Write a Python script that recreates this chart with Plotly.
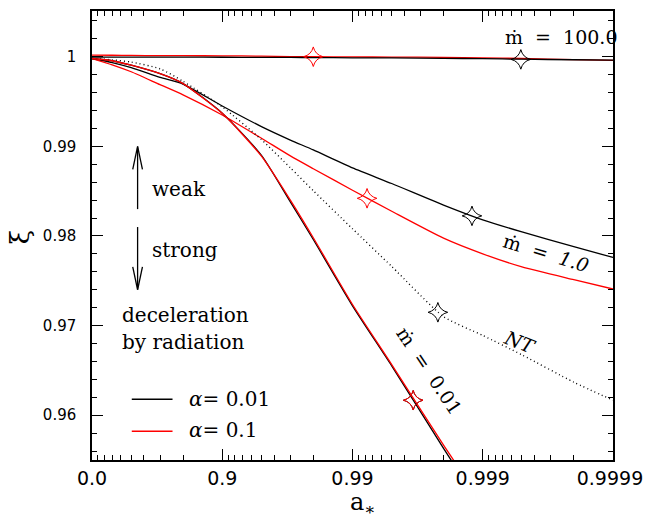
import numpy as np
import plotly.graph_objects as go

# ---------------- data ----------------
spin = [0, 0.3, 0.5, 0.7, 0.8, 0.9, 0.95, 0.97, 0.98, 0.99, 0.995, 0.998, 0.999, 0.9995, 0.9998, 0.9999]

xi_m100_a001 = [0.99995, 0.99995, 0.99995, 0.99995, 0.99995, 0.99994, 0.99993, 0.99992, 0.99990,
                0.99988, 0.99986, 0.99982, 0.99978, 0.99972, 0.99966, 0.99962]
xi_m100_a01 = [1.00018, 1.00016, 1.00014, 1.00012, 1.00011, 1.00010, 1.00006, 1.00002, 1.00000,
               0.99998, 0.99996, 0.99993, 0.99988, 0.99980, 0.99968, 0.99958]
xi_m1_a001 = [0.9998, 0.99935, 0.99878, 0.9977, 0.99695, 0.9945, 0.9922, 0.9907, 0.9896,
              0.9876, 0.98585, 0.98345, 0.9818, 0.98045, 0.9788, 0.9776]
xi_m1_a01 = [0.9998, 0.9991, 0.99832, 0.99688, 0.99575, 0.9935, 0.9909, 0.98893, 0.9875,
             0.9851, 0.98275, 0.97975, 0.9780, 0.97655, 0.97512, 0.97408]
xi_NT = [0.9998, 0.99965, 0.9994, 0.99865, 0.99725, 0.9944, 0.99075, 0.9876, 0.98505,
         0.9808, 0.9766, 0.9710, 0.9689, 0.96673, 0.96368, 0.96167]
xi_m001_a001 = [0.9998, 0.99955, 0.99905, 0.9981, 0.9970, 0.9937, 0.9890, 0.9838, 0.9796,
                0.9722, 0.9655, 0.9563, 0.9495]
xi_m001_a01 = [0.9998, 0.99955, 0.99905, 0.9981, 0.9970, 0.99368, 0.9889, 0.9840, 0.9798,
               0.97235, 0.96565, 0.95665, 0.9502]

star_spin_red = [0.98, 0.99227, 0.99658]
star_xi_red = [1.0000, 0.9842, 0.96167]
star_spin_black = [0.99949, 0.99879, 0.99779, 0.99658]
star_xi_black = [0.9997, 0.98224, 0.97148, 0.96167]

x_tick_spin = [0.0, 0.9, 0.99, 0.999, 0.9999]
x_tick_text = ["0.0", "0.9", "0.99", "0.999", "0.9999\u00a0"]
y_tick_vals = [0.96, 0.97, 0.98, 0.99, 1.0]
y_tick_text = ["0.96", "0.97", "0.98", "0.99", "1"]

# ---------------- helpers ----------------
def om(a):
    return 1.0 - np.asarray(a, dtype=float)

L, R, T, B = 92, 629, 9, 460
def PX(p):
    return (p - L) / (R - L)
def PY(p):
    return (B - p) / (B - T)

BLACK = "#000000"
RED = "#ff0000"
SERIF = "DejaVu Serif"

fig = go.Figure()

def add_line(sp, xi, color, dash="solid", width=1.3):
    fig.add_trace(go.Scatter(x=om(sp), y=xi, mode="lines",
                             line=dict(color=color, width=width, dash=dash, shape="spline", smoothing=0.6),
                             showlegend=False, hoverinfo="skip"))

add_line(spin, xi_m100_a01, RED)
add_line(spin, xi_m100_a001, BLACK)
add_line(spin, xi_m1_a001, BLACK)
add_line(spin, xi_m1_a01, RED)
add_line(spin, xi_NT, BLACK, dash="1px,3px", width=1.4)
add_line(spin[:len(xi_m001_a001)], xi_m001_a001, BLACK)
add_line(spin[:len(xi_m001_a01)], xi_m001_a01, RED)

fig.add_trace(go.Scatter(x=om(star_spin_black), y=star_xi_black, mode="markers",
                         marker=dict(symbol="star-diamond-open", size=14, color=BLACK, line=dict(width=1)),
                         showlegend=False, hoverinfo="skip"))
fig.add_trace(go.Scatter(x=om(star_spin_red), y=star_xi_red, mode="markers",
                         marker=dict(symbol="star-diamond-open", size=14, color=RED, line=dict(width=1)),
                         showlegend=False, hoverinfo="skip"))

# minor ticks on the (1 - a) log axis
minor_vals = [k * 10.0 ** (-d) for d in range(1, 5) for k in range(2, 10)]

fig.update_layout(
    width=658, height=520,
    margin=dict(l=L, r=658 - R, t=T, b=520 - B),
    paper_bgcolor="white", plot_bgcolor="white",
    showlegend=False,
    xaxis=dict(type="log", range=[0, -4], tickmode="array",
               tickvals=list(om(x_tick_spin)), ticktext=x_tick_text,
               ticks="inside", ticklen=11, tickwidth=1.2, tickcolor=BLACK,
               showline=True, linecolor=BLACK, linewidth=1.5, mirror="allticks",
               showgrid=False, zeroline=False, ticklabeloverflow="allow",
               tickfont=dict(family="DejaVu Sans", size=19, color=BLACK),
               minor=dict(tickmode="array", tickvals=minor_vals, ticks="inside",
                          ticklen=5, tickwidth=1, tickcolor=BLACK, showgrid=False)),
    yaxis=dict(range=[0.955, 1.0051], tickmode="array",
               tickvals=y_tick_vals, ticktext=y_tick_text,
               ticks="inside", ticklen=11, tickwidth=1.2, tickcolor=BLACK,
               showline=True, linecolor=BLACK, linewidth=1.5, mirror="allticks",
               showgrid=False, zeroline=False,
               tickfont=dict(family="DejaVu Sans", size=15, color=BLACK),
               ticklabelstandoff=11,
               minor=dict(dtick=0.002, tick0=0.96, ticks="inside",
                          ticklen=5, tickwidth=1, tickcolor=BLACK, showgrid=False)),
)

def note(text, x, y, size=20, angle=0, xanchor="center", yanchor="middle", family=SERIF):
    fig.add_annotation(text=text, x=PX(x), y=PY(y), xref="paper", yref="paper",
                       showarrow=False, textangle=angle, xanchor=xanchor, yanchor=yanchor,
                       font=dict(family=family, size=size, color=BLACK))

NB = "\u00a0"
note("\u1e41" + NB * 2 + "=" + NB * 2 + "100.0", 576, 35, size=19)
note("\u1e41" + NB * 2 + "=" + NB * 2 + "<i>1.0</i>", 560, 252, size=19, angle=17)
note("<i>NT</i>", 533, 341, size=19, angle=22)
note("\u1e41" + NB * 2 + "=" + NB * 2 + "0.01", 439, 370, size=19, angle=56)
note("weak", 152, 188, xanchor="left")
note("strong", 152, 249, xanchor="left")
note("deceleration", 121, 314, xanchor="left")
note("by radiation", 121, 341, xanchor="left")
note("<i>\u03b1</i>=" + NB + "0.01", 190, 399, xanchor="left")
note("<i>\u03b1</i>=" + NB + "0.1", 190, 430, xanchor="left")
note("a<sub>\u2217</sub>", 371, 504, size=24)
note("\u03be", 18, 236, size=26, angle=-90)

def seg(x0, y0, x1, y1, color=BLACK, width=1.3):
    fig.add_shape(type="line", xref="paper", yref="paper",
                  x0=PX(x0), y0=PY(y0), x1=PX(x1), y1=PY(y1),
                  line=dict(color=color, width=width))

# arrows
seg(139, 208, 139, 146)
seg(134, 168, 139, 145)
seg(144, 168, 139, 145)
seg(139, 226, 139, 288)
seg(134, 266, 139, 289)
seg(144, 266, 139, 289)
# legend samples
seg(133, 399, 175, 399, BLACK, 1.5)
seg(133, 431, 175, 431, RED, 1.5)

fig.write_html("out.html", config={"displayModeBar": False},
               post_script="document.body.style.margin='0';document.body.style.padding='0';")
